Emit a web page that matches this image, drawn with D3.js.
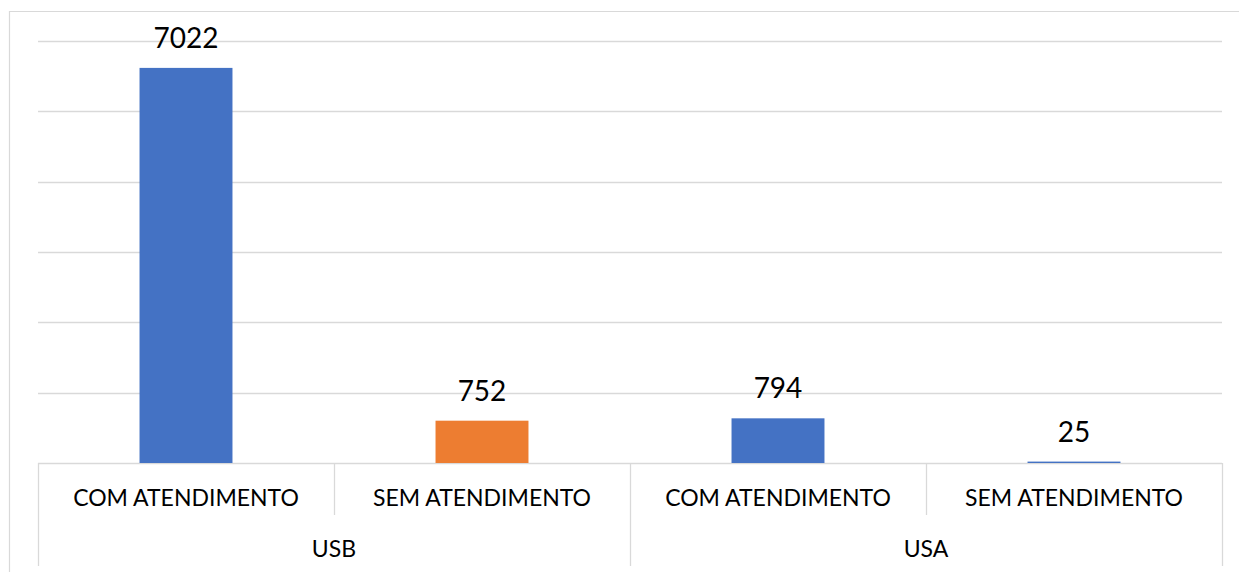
<!DOCTYPE html>
<html lang="pt">
<head>
<meta charset="UTF-8">
<title>Atendimento USB / USA</title>
<script src="https://d3js.org/d3.v7.min.js"></script>
<style>
  body { margin: 0; background: #fff; }
  text { font-family: Lato, "Open Sans", sans-serif; fill: #000; }
</style>
</head>
<body>
<script>
// dados do grafico
var groups = ["USB", "USA"];
var subCategories = ["COM ATENDIMENTO", "SEM ATENDIMENTO"];
var values = [7022, 752, 794, 25];
var barColors = ["#4472C4", "#ED7D31", "#4472C4", "#4472C4"];
var yTicks = [0, 1250, 2500, 3750, 5000, 6250, 7500];

var width = 1239, height = 572;
var plotLeft = 38, plotRight = 1222, plotTop = 41, axisY = 463;

var svg = d3.select("body").append("svg")
    .attr("width", width).attr("height", height);

// moldura do grafico (cortada a direita e embaixo)
svg.append("path")
    .attr("d", "M9.5," + height + "V11.5H" + width)
    .attr("fill", "none").attr("stroke", "#D9D9D9").attr("stroke-width", 1.2);

// uma entrada por barra
var items = [];
groups.forEach(function(g, gi) {
    subCategories.forEach(function(s, si) {
        items.push({ key: g + "|" + s, group: g, sub: s, value: values[gi * subCategories.length + si] });
    });
});
items.forEach(function(d, i) { d.color = barColors[i]; });

var x = d3.scaleBand()
    .domain(items.map(function(d) { return d.key; }))
    .range([plotLeft, plotRight])
    .paddingInner(0.686)
    .paddingOuter(0.343);

var xGroup = d3.scaleBand()
    .domain(groups)
    .range([plotLeft, plotRight]);

var y = d3.scaleLinear()
    .domain([0, d3.max(yTicks)])
    .range([axisY, plotTop]);

// linhas de grade
svg.append("g").selectAll("line")
    .data(yTicks)
    .enter().append("line")
    .attr("x1", plotLeft).attr("x2", plotRight)
    .attr("y1", function(d) { return Math.round(y(d)) + 0.5; })
    .attr("y2", function(d) { return Math.round(y(d)) + 0.5; })
    .attr("stroke", "#D9D9D9").attr("stroke-width", 1.3);

// barras
svg.append("g").selectAll("rect")
    .data(items)
    .enter().append("rect")
    .attr("x", function(d) { return x(d.key); })
    .attr("width", x.bandwidth())
    .attr("y", function(d) { return y(d.value); })
    .attr("height", function(d) { return axisY - y(d.value); })
    .attr("fill", function(d) { return d.color; });

// rotulos de dados
svg.append("g").selectAll("text")
    .data(items)
    .enter().append("text")
    .attr("x", function(d) { return x(d.key) + x.bandwidth() / 2; })
    .attr("y", function(d) { return y(d.value) - 20; })
    .attr("text-anchor", "middle")
    .style("font-size", "28px")
    .text(function(d) { return d.value; });

// eixo de categorias em dois niveis
var step = x.step();
var bounds = d3.range(items.length + 1).map(function(i) { return plotLeft + i * step; });
var axis = svg.append("g");

axis.selectAll("line.sep")
    .data(bounds)
    .enter().append("line")
    .attr("class", "sep")
    .attr("x1", function(d) { return Math.round(d) + 0.5; })
    .attr("x2", function(d) { return Math.round(d) + 0.5; })
    .attr("y1", axisY)
    .attr("y2", function(d, i) { return i % subCategories.length === 0 ? 566 : 515; })
    .attr("stroke", "#D9D9D9").attr("stroke-width", 1.3);

axis.selectAll("text.sub")
    .data(items)
    .enter().append("text")
    .attr("class", "sub")
    .attr("x", function(d) { return x(d.key) + x.bandwidth() / 2; })
    .attr("y", 506)
    .attr("text-anchor", "middle")
    .style("font-size", "23px")
    .text(function(d) { return d.sub; });

axis.selectAll("text.grp")
    .data(groups)
    .enter().append("text")
    .attr("class", "grp")
    .attr("x", function(d) { return xGroup(d) + xGroup.bandwidth() / 2; })
    .attr("y", 557)
    .attr("text-anchor", "middle")
    .style("font-size", "23px")
    .text(function(d) { return d; });
</script>
</body>
</html>
